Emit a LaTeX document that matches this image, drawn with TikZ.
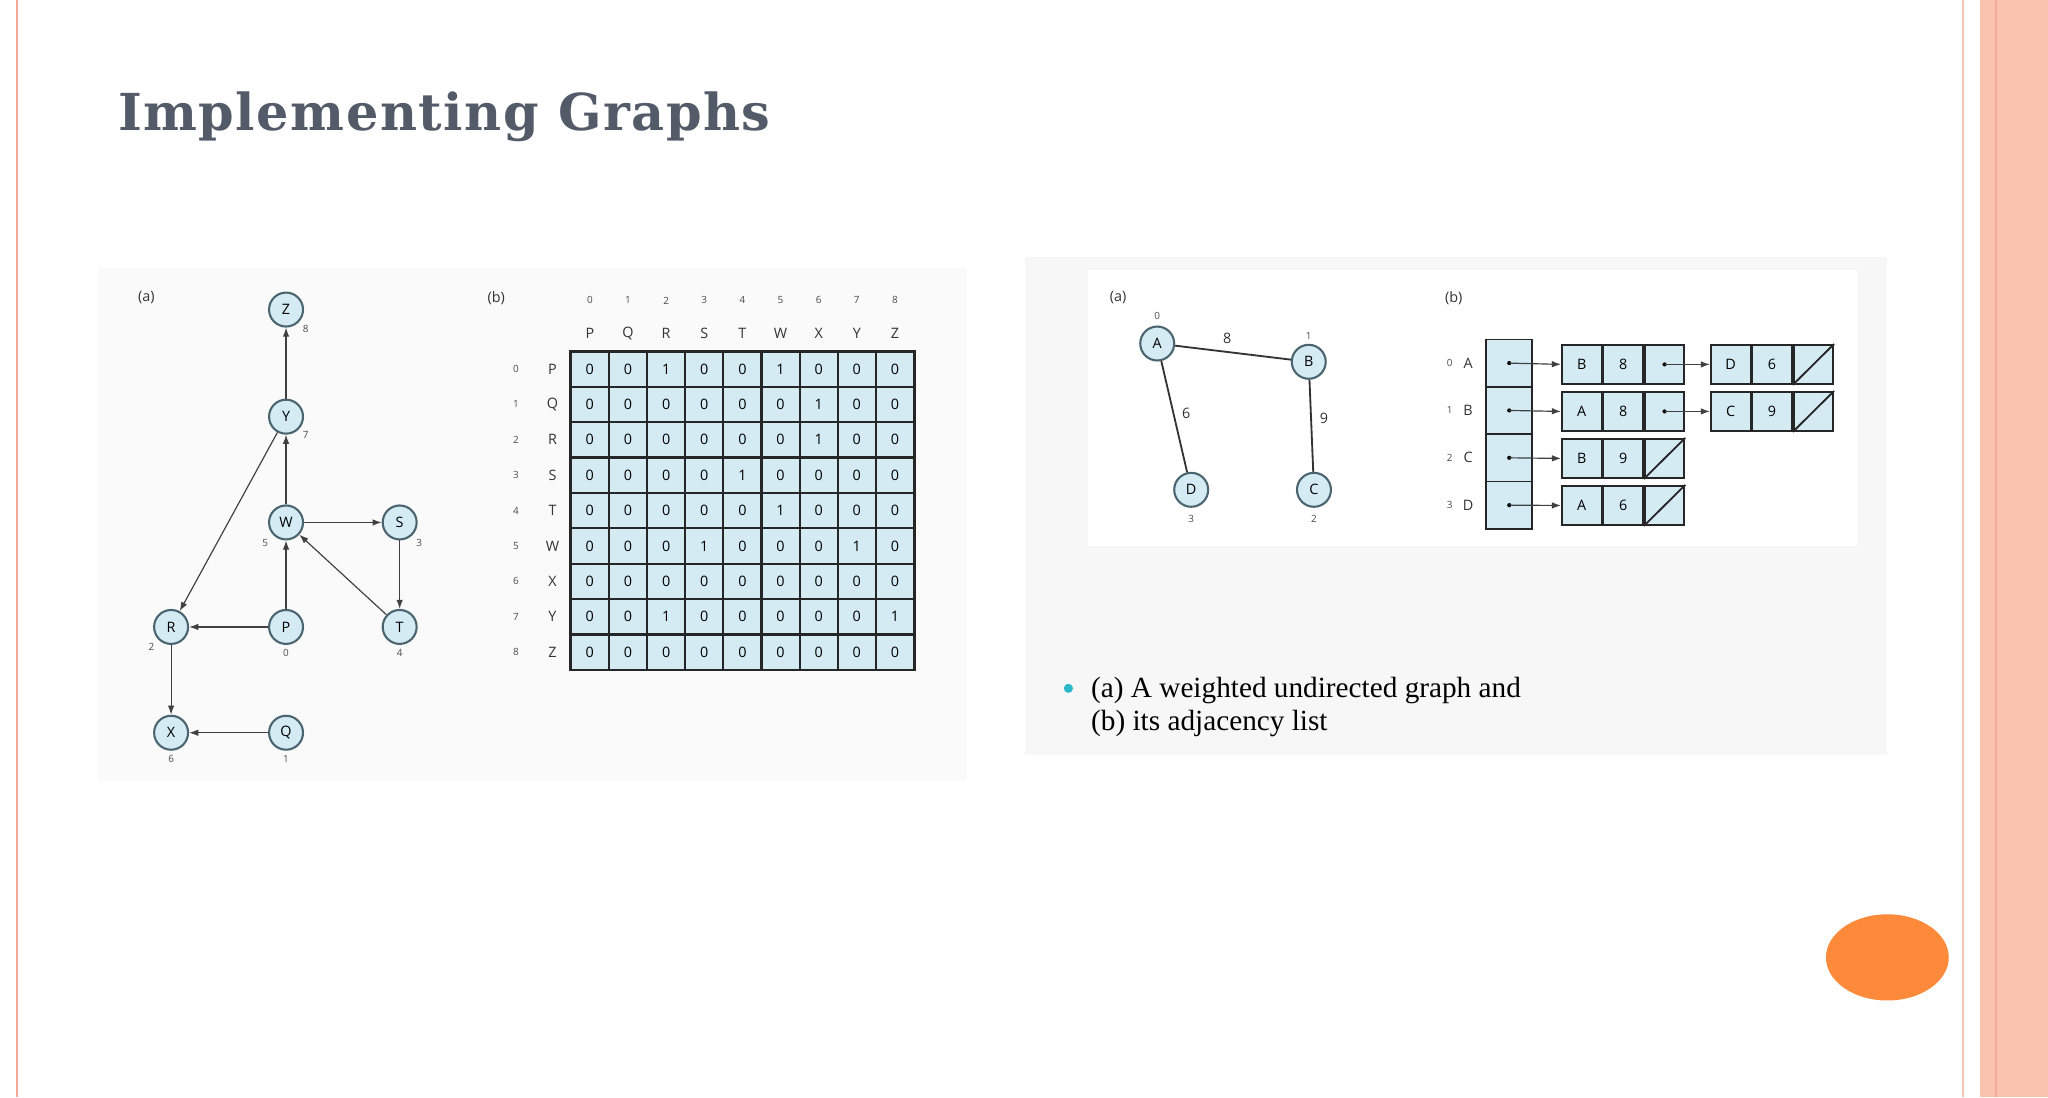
\documentclass[tikz,border=0pt]{standalone}
\usepackage{fontspec}
\setmainfont{Liberation Serif}
\newfontfamily\titlefont[LetterSpace=3]{DejaVu Serif}
\newfontfamily\dfont{Open Sans}
\usetikzlibrary{arrows.meta}
\definecolor{nodefill}{HTML}{D4EBF4}
\definecolor{nodeline}{HTML}{4A6470}
\definecolor{titlec}{HTML}{535B69}
\definecolor{salmon}{HTML}{F9C3AE}
\definecolor{pinkl}{HTML}{F4A898}
\definecolor{orangec}{HTML}{FD8A3A}
\definecolor{bulletc}{HTML}{2CB8C8}
\tikzset{
 vtx/.style={circle,draw=nodeline,line width=0.8pt,fill=nodefill,minimum size=13pt,inner sep=0pt,font=\dfont\fontsize{5.5}{6}\selectfont},
 idx/.style={font=\dfont\fontsize{3.8}{4}\selectfont,text=black!70,inner sep=0pt},
 lbl/.style={font=\dfont\fontsize{5.5}{6}\selectfont,text=black!80,inner sep=0pt},
 earr/.style={-{Latex[length=3.5pt,width=2.5pt]},line width=0.45pt,draw=black!75},
 edg/.style={line width=0.7pt,draw=black!80},
 mcell/.style={draw=black!85,line width=0.8pt,fill=nodefill,minimum width=14.6pt,minimum height=13.55pt,inner sep=0pt,font=\dfont\fontsize{5.5}{6}\selectfont},
 lcell/.style={draw=black!85,line width=0.7pt,fill=nodefill,minimum width=15.15pt,minimum height=15pt,inner sep=0pt,font=\dfont\fontsize{5.5}{6}\selectfont},
 hcell/.style={draw=black!85,line width=0.7pt,fill=nodefill,minimum width=17.5pt,minimum height=18.1pt,inner sep=0pt},
}
\begin{document}
\begin{tikzpicture}[x=0.5pt,y=-0.5pt]
\useasboundingbox (0,0) rectangle (1568,840);
\fill[white] (0,0) rectangle (1568,840);
% borders
\draw[pinkl,line width=1pt] (13,0) -- (13,840);
\draw[pinkl!70,line width=1pt] (1503,0) -- (1503,840);
\fill[salmon] (1516,0) rectangle (1568,840);
\draw[pinkl,line width=0.8pt] (1528,0) -- (1528,840);
\fill[orangec] (1445,733) ellipse [x radius=47, y radius=33];
% title
\node[anchor=base west,text=titlec,font=\titlefont\bfseries\fontsize{19.5}{23}\selectfont,inner sep=0pt] (title) at (90,100) {Implementing Graphs};
% left panel
\fill[black!2] (75,205) rectangle (740,598);
\node[lbl] (la) at (112,228) {(a)};
\node[lbl] (lb) at (380,228) {(b)};
\node[vtx] (Z) at (219,237) {Z};
\node[vtx] (Y) at (219,319) {Y};
\node[vtx] (W) at (219,400) {W};
\node[vtx] (S) at (306,400) {S};
\node[vtx] (R) at (131,480) {R};
\node[vtx] (P) at (219,480) {P};
\node[vtx] (T) at (306,480) {T};
\node[vtx] (X) at (131,561) {X};
\node[vtx] (Q) at (219,561) {Q};
\node[idx] (iZ) at (234,252) {8};
\node[idx] (iY) at (234,333) {7};
\node[idx] (iW) at (203,416) {5};
\node[idx] (iS) at (321,416) {3};
\node[idx] (iR) at (116,495) {2};
\node[idx] (iP) at (219,500) {0};
\node[idx] (iT) at (306,500) {4};
\node[idx] (iX) at (131,581) {6};
\node[idx] (iQ) at (219,581) {1};
\draw[earr] (Y) -- (Z);
\draw[earr] (W) -- (Y);
\draw[earr] (P) -- (W);
\draw[earr] (W) -- (S);
\draw[earr] (S) -- (T);
\draw[earr] (T) -- (W);
\draw[earr] (Y) -- (R);
\draw[earr] (P) -- (R);
\draw[earr] (R) -- (X);
\draw[earr] (Q) -- (X);
% matrix
\foreach \L [count=\c from 0] in {P,Q,R,S,T,W,X,Y,Z}{
  \node[idx] (ci\c) at ({437+29.2*(\c+0.5)},230) {\c};
  \node[lbl] (cl\c) at ({437+29.2*(\c+0.5)},255) {\L};
  \node[idx] (ri\c) at (395,{269+27.1*(\c+0.5)}) {\c};
  \node[lbl] (rl\c) at (423,{269+27.1*(\c+0.5)}) {\L};
}
\foreach \r/\row in {0/{0,0,1,0,0,1,0,0,0},1/{0,0,0,0,0,0,1,0,0},2/{0,0,0,0,0,0,1,0,0},3/{0,0,0,0,1,0,0,0,0},4/{0,0,0,0,0,1,0,0,0},5/{0,0,0,1,0,0,0,1,0},6/{0,0,0,0,0,0,0,0,0},7/{0,0,1,0,0,0,0,0,1},8/{0,0,0,0,0,0,0,0,0}}{
  \foreach \v [count=\c from 0] in \row {
    \node[mcell] (m\r-\c) at ({437+29.2*(\c+0.5)},{269+27.1*(\r+0.5)}) {\v};
  }
}
\draw[black!85,line width=1pt] (437,269) rectangle (700,513);
% right panel
\fill[black!3] (785,197) rectangle (1445,578);
\fill[white] (833,207) rectangle (1422,418);
\node[lbl] (ra) at (856,228) {(a)};
\node[lbl] (rb) at (1113,228) {(b)};
\node[vtx] (A) at (886,263) {A};
\node[vtx] (B) at (1002,277) {B};
\node[vtx] (D) at (912,375) {D};
\node[vtx] (C) at (1006,375) {C};
\node[idx] (iA) at (886,242) {0};
\node[idx] (iB) at (1002,257) {1};
\node[idx] (iD) at (912,397) {3};
\node[idx] (iC) at (1006,397) {2};
\draw[edg] (A) -- node[lbl,pos=0.45,above=3pt] (w8) {8} (B);
\draw[edg] (A) -- node[lbl,pos=0.47,right=3pt] (w6) {6} (D);
\draw[edg] (B) -- node[lbl,pos=0.42,right=3pt] (w9) {9} (C);
% adjacency list
\foreach \L [count=\r from 0] in {A,B,C,D}{
  \node[hcell] (h\r) at (1155.5,{278+36.25*\r}) {};
  \node[idx] (hi\r) at (1110,{278+36.25*\r}) {\r};
  \node[lbl] (hl\r) at (1124,{278+36.25*\r}) {\L};
  \fill[black] (h\r.center) circle (1.6);
}
\newcommand\lst[5]{% name, x, y, letter, weight
  \node[lcell] (#1a) at (#2,#3) {#4};
  \node[lcell,anchor=west] (#1b) at (#1a.east) {#5};
  \node[lcell,anchor=west] (#1c) at (#1b.east) {};
}
\lst{n0}{1211}{279}{B}{8}
\lst{n1}{1211}{315}{A}{8}
\lst{n2}{1211}{351}{B}{9}
\lst{n3}{1211}{387}{A}{6}
\lst{n4}{1325}{279}{D}{6}
\lst{n5}{1325}{315}{C}{9}
\foreach \n in {n2,n3,n4,n5}{\draw[black!85,line width=0.7pt] (\n c.south west) -- (\n c.north east);}
\foreach \n in {n0,n1}{\fill[black] (\n c.center) circle (1.6);}
\foreach \r in {0,1,2,3}{\draw[earr] (h\r.center) -- (n\r a.west);}
\draw[earr] (n0c.center) -- (n4a.west);
\draw[earr] (n1c.center) -- (n5a.west);
% caption
\fill[bulletc] (818,527) circle (3.5);
\node[anchor=base west,inner sep=0pt,font=\fontsize{11.2}{13}\selectfont] (cap1) at (835,534) {(a) A weighted undirected graph and};
\node[anchor=base west,inner sep=0pt,font=\fontsize{11.2}{13}\selectfont] (cap2) at (835,559) {(b) its adjacency list};
\end{tikzpicture}
\end{document}
